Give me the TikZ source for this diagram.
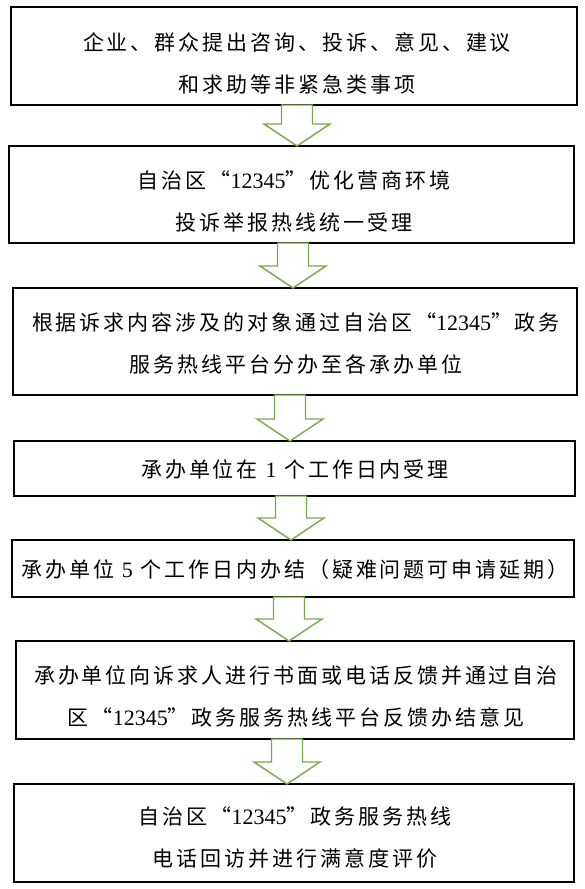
\documentclass[tikz,border=0pt]{standalone}
\usepackage{fontspec}
\newfontfamily\cjk[LetterSpace=14]{Noto Sans CJK SC}
\newfontfamily\lat{Liberation Serif}
\newcommand\nm[1]{{\lat\fontsize{22}{42}\selectfont #1}}
\tikzset{
  x=1pt, y=-1pt,
  box/.style={draw=black, line width=1.2pt, rectangle, inner sep=0pt},
  txt/.style={align=center, inner sep=0pt, font=\cjk\fontsize{21}{42}\selectfont},
  blk/.style={draw=arrgreen, line width=1.4pt, fill=white, line join=miter},
}
\definecolor{arrgreen}{RGB}{122,168,76}
\newcommand\blockarr[2]{% top coordinate, shaft length
  \draw[blk] (#1) ++(-15.5,0) -- ++(31,0) -- ++(0,#2) -- ++(17.5,0) -- ++(-33,22) -- ++(-33,-22) -- ++(17.5,0) -- cycle;
}
\begin{document}
\begin{tikzpicture}
\useasboundingbox[fill=white] (0,0) rectangle (585,889);
% boxes
\node[box, minimum width=566pt, minimum height=98pt] (b1) at (294,56) {};
\node[box, minimum width=565pt, minimum height=97pt] (b2) at (291.5,194.5) {};
\node[box, minimum width=564pt, minimum height=107pt] (b3) at (295,341.5) {};
\node[box, minimum width=561pt, minimum height=55pt] (b4) at (294.5,468.5) {};
\node[box, minimum width=562pt, minimum height=57pt] (b5) at (293,568.5) {};
\node[box, minimum width=558pt, minimum height=98pt] (b6) at (295,690) {};
\node[box, minimum width=560pt, minimum height=98pt] (b7) at (294,833) {};
% texts
\node[txt] (t1) at (297,63) {企业、群众提出咨询、投诉、意见、建议\\和求助等非紧急类事项};
\node[txt] (t2) at (294,201) {自治区“\nm{12345}”优化营商环境\\投诉举报热线统一受理};
\node[txt] (t3) at (296,343) {根据诉求内容涉及的对象通过自治区“\nm{12345}”政务\\服务热线平台分办至各承办单位};
\node[txt] (t4) at (295,469) {承办单位在 \nm{1} 个工作日内受理};
\node[txt] (t5) at (295,570) {承办单位 \nm{5} 个工作日内办结（疑难问题可申请延期）};
\node[txt] (t6) at (296,696) {承办单位向诉求人进行书面或电话反馈并通过自治\\区“\nm{12345}”政务服务热线平台反馈办结意见};
\node[txt] (t7) at (295,838) {自治区“\nm{12345}”政务服务热线\\电话回访并进行满意度评价};
% arrows
\coordinate (a1) at (297,105);
\coordinate (a2) at (293,243);
\coordinate (a3) at (290,395);
\coordinate (a4) at (291,496);
\coordinate (a5) at (289,597);
\coordinate (a6) at (287,739);
\blockarr{a1}{19}
\blockarr{a2}{23}
\blockarr{a3}{24}
\blockarr{a4}{22}
\blockarr{a5}{22}
\blockarr{a6}{23}
\end{tikzpicture}
\end{document}
